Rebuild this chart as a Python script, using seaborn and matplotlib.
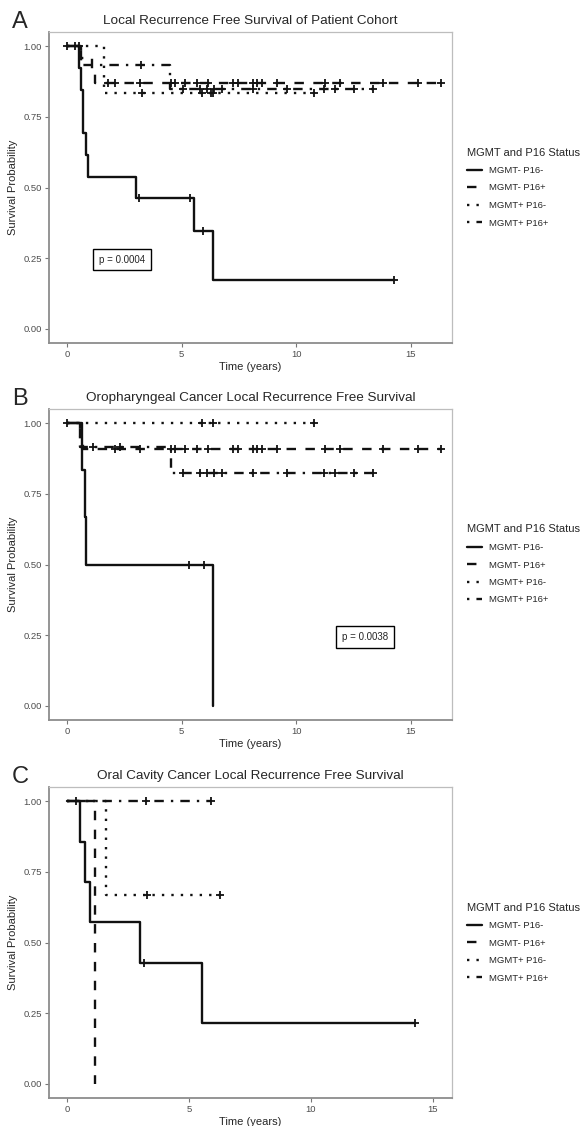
import numpy as np
import pandas as pd
import seaborn as sns
import matplotlib
matplotlib.use("Agg")
import matplotlib.pyplot as plt
from matplotlib.lines import Line2D

# Group names (legend order) and their line styles
groups = ["MGMT- P16-", "MGMT- P16+", "MGMT+ P16-", "MGMT+ P16+"]
styles = ["-", (0, (4, 4)), (0, (1, 3)), (0, (1, 3, 4, 3))]

titles = ["Local Recurrence Free Survival of Patient Cohort",
          "Oropharyngeal Cancer Local Recurrence Free Survival",
          "Oral Cavity Cancer Local Recurrence Free Survival"]
letters = ["A", "B", "C"]
pvals = ["p = 0.0004", "p = 0.0038", None]
pval_pos = [(2.4, 0.245), (13.0, 0.244), None]

# ---- Panel A: whole cohort (step times, survival, censor times) ----
A_t_nn = [0, 0.52, 0.6, 0.7, 0.83, 0.92, 3.0, 5.55, 6.35, 14.25]
A_s_nn = [1, 0.923, 0.846, 0.692, 0.615, 0.538, 0.462, 0.346, 0.173, 0.173]
A_c_nn = [0.02, 0.35, 3.15, 5.35, 5.95, 14.25]
A_t_np = [0, 0.6, 1.1, 1.2, 16.3]
A_s_np = [1, 0.957, 0.913, 0.870, 0.870]
A_c_np = [1.8, 2.1, 3.2, 4.55, 4.7, 5.15, 5.65, 6.15, 7.25, 7.45, 8.1, 8.3, 8.5,
          9.15, 11.25, 11.9, 13.8, 15.3, 16.3]
A_t_pn = [0, 1.6, 10.75]
A_s_pn = [1, 0.834, 0.834]
A_c_pn = [3.27, 5.9, 6.27, 6.35, 10.75]
A_t_pp = [0, 0.6, 4.5, 13.35]
A_s_pp = [1, 0.933, 0.848, 0.848]
A_c_pp = [0.52, 3.23, 5.05, 5.8, 6.1, 6.4, 6.75, 8.1, 9.6, 11.2, 11.7, 12.5, 13.35]

# ---- Panel B: oropharyngeal ----
B_t_nn = [0, 0.65, 0.78, 0.85, 6.35]
B_s_nn = [1, 0.833, 0.667, 0.5, 0.0]
B_c_nn = [0.02, 5.33, 5.98]
B_t_np = [0, 0.55, 0.7, 16.3]
B_s_np = [1, 0.955, 0.91, 0.91]
B_c_np = [2.1, 3.2, 4.55, 4.7, 5.15, 5.65, 6.15, 7.25, 7.45, 8.1, 8.3, 8.5,
          9.15, 11.25, 11.9, 13.8, 15.3, 16.3]
B_t_pn = [0, 10.75]
B_s_pn = [1, 1]
B_c_pn = [5.9, 6.35, 10.75]
B_t_pp = [0, 0.55, 4.55, 13.35]
B_s_pp = [1, 0.917, 0.825, 0.825]
B_c_pp = [1.15, 2.3, 5.05, 5.8, 6.1, 6.4, 6.75, 8.1, 9.6, 11.2, 11.7, 12.5, 13.35]

# ---- Panel C: oral cavity ----
C_t_nn = [0, 0.53, 0.74, 0.94, 2.99, 5.53, 14.26]
C_s_nn = [1, 0.857, 0.714, 0.571, 0.429, 0.214, 0.214]
C_c_nn = [3.16, 14.26]
C_t_np = [0, 1.15]
C_s_np = [1, 0.0]
C_c_np = []
C_t_pn = [0, 1.6, 6.27]
C_s_pn = [1, 0.667, 0.667]
C_c_pn = [3.27, 6.27]
C_t_pp = [0, 5.9]
C_s_pp = [1, 1]
C_c_pp = [0.37, 3.23, 5.9]

panels = [
    [(A_t_nn, A_s_nn, A_c_nn), (A_t_np, A_s_np, A_c_np), (A_t_pn, A_s_pn, A_c_pn), (A_t_pp, A_s_pp, A_c_pp)],
    [(B_t_nn, B_s_nn, B_c_nn), (B_t_np, B_s_np, B_c_np), (B_t_pn, B_s_pn, B_c_pn), (B_t_pp, B_s_pp, B_c_pp)],
    [(C_t_nn, C_s_nn, C_c_nn), (C_t_np, C_s_np, C_c_np), (C_t_pn, C_s_pn, C_c_pn), (C_t_pp, C_s_pp, C_c_pp)],
]
xlims = [(-0.785, 16.79), (-0.785, 16.79), (-0.74, 15.78)]

sns.set_style("white")
plt.rcParams['font.family'] = ['Liberation Sans', 'DejaVu Sans']

fig = plt.figure(figsize=(5.85, 11.26), dpi=100)
tops = [32, 409, 787]
for i, top in enumerate(tops):
    ax = fig.add_axes([49 / 585, 1 - (top + 311) / 1126, 403 / 585, 311 / 1126])
    for (t, s, c), ls in zip(panels[i], styles):
        sns.lineplot(x=t, y=s, ax=ax, drawstyle='steps-post', estimator=None, sort=False,
                     color='#111111', linestyle=ls, linewidth=1.7, legend=False)
        if len(c):
            idx = np.searchsorted(t, c, side='right') - 1
            cy = np.array(s)[idx]
            sns.scatterplot(x=c, y=cy, ax=ax, marker='+', color='#111111', s=40,
                            linewidth=1.3, legend=False)
    ax.set_xlim(*xlims[i])
    ax.set_ylim(-0.05, 1.05)
    ax.set_xticks([0, 5, 10, 15])
    ax.set_yticks([0, 0.25, 0.5, 0.75, 1.0])
    ax.set_yticklabels(['0.00', '0.25', '0.50', '0.75', '1.00'])
    ax.tick_params(labelsize=6.8, labelcolor='#4d4d4d', color='#777777', length=3,
                   width=0.8, direction='out', left=True, bottom=True, pad=2)
    for side in ['left', 'bottom']:
        ax.spines[side].set_color('#8c8c8c')
        ax.spines[side].set_linewidth(1.3)
    for side in ['top', 'right']:
        ax.spines[side].set_color('#bdbdbd')
        ax.spines[side].set_linewidth(0.9)
    ax.set_xlabel('Time (years)', fontsize=8, labelpad=2)
    ax.set_ylabel('Survival Probability', fontsize=8, labelpad=4)
    ax.set_title(titles[i], fontsize=9.7, pad=6)
    fig.text(12 / 585, 1 - (top - 4) / 1126, letters[i], fontsize=17, ha='left', va='baseline')
    if pvals[i]:
        ax.text(*pval_pos[i], pvals[i], fontsize=7, ha='center', va='center',
                bbox=dict(boxstyle='square,pad=0.6', fc='white', ec='black', lw=1.0))
    handles = [Line2D([0], [0], color='#111111', linestyle=ls, linewidth=1.7) for ls in styles]
    leg = ax.legend(handles, groups, title='MGMT and P16 Status', loc='center left',
                    bbox_to_anchor=(1.02, 0.5), frameon=False, fontsize=6.8,
                    title_fontsize=8, handlelength=1.6, handletextpad=0.8,
                    labelspacing=0.9, borderpad=0.2, alignment='left')

fig.savefig('out.png', dpi=100)
